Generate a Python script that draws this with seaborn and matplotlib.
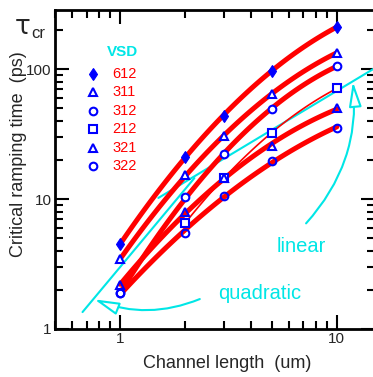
import numpy as np
import matplotlib
matplotlib.use("Agg")
import matplotlib.pyplot as plt
import seaborn as sns
from matplotlib.ticker import LogLocator, NullFormatter, FixedLocator, FixedFormatter

sns.set_style("ticks")
plt.rcParams["font.family"] = ["Liberation Sans", "DejaVu Sans"]

# Channel lengths (um)
length = [1, 2, 3, 5, 10]
length_212 = [2, 3, 5, 10]

# Critical ramping time (ps) for each VSD configuration
tau_612 = [4.5, 21.2, 43.7, 97, 211]
tau_311 = [3.45, 15.2, 30.7, 64, 134]
tau_312 = [1.88, 10.4, 22.1, 49, 106]
tau_212 = [6.57, 14.4, 32.4, 71]
tau_321 = [2.18, 7.98, 14.4, 25.6, 49.9]
tau_322 = [1.88, 5.45, 10.6, 19.6, 35.4]

vsd_labels = ["612", "311", "312", "212", "321", "322"]

# Reference slopes: linear (tau ~ L) and quadratic (tau ~ L^2)
linear_x = [1.5, 15.0]
linear_y = [10.2, 102.0]
quad_x = [0.67, 2.2]
quad_y = [1.35, 14.5]

x_ticks = [1, 10]
x_ticklabels = ["1", "10"]
y_ticks = [1, 10, 100]
y_ticklabels = ["1", "10", "100"]

RED = "#ff0000"
BLUE = "#0000ff"
CYAN = "#00e6e6"

# label, x, y, marker, size, face, edge width, curve width
series = [
    ("612", length, tau_612, "d", 6.0, BLUE, 0.8, 3.6),
    ("311", length, tau_311, "^", 6.0, "white", 1.5, 3.6),
    ("312", length, tau_312, "o", 5.5, "white", 1.5, 3.6),
    ("212", length_212, tau_212, "s", 5.2, "white", 1.5, 1.2),
    ("321", length, tau_321, "^", 6.0, "none", 1.5, 3.6),
    ("322", length, tau_322, "o", 5.5, "none", 1.5, 3.6),
]

W, H = 373, 377
fig = plt.figure(figsize=(W / 100, H / 100), dpi=100)
ax = fig.add_axes([55 / W, 48 / H, 320 / W, 319 / H])
ax.set(xscale="log", yscale="log")
ax.set_xlim(0.5, 15)
ax.set_ylim(1, 285)

# reference slope lines
sns.lineplot(x=linear_x, y=linear_y, ax=ax, color=CYAN, lw=1.5, zorder=1.5)
sns.lineplot(x=quad_x, y=quad_y, ax=ax, color=CYAN, lw=1.5, zorder=1.5)

# smooth log-log quadratic fit through each series, then the measured points
for label, xs, ys, mk, ms, face, mew, lw in series:
    lx, ly = np.log10(xs), np.log10(ys)
    coef = np.polyfit(lx, ly, 2)
    xx = np.linspace(lx.min(), lx.max(), 120)
    yy = np.polyval(coef, xx)
    sns.lineplot(x=10 ** xx, y=10 ** yy, ax=ax, color=RED, lw=lw,
                 sort=False, estimator=None, zorder=2)
    ax.plot(xs, ys, linestyle="none", marker=mk, ms=ms, mfc=face,
            mec=BLUE, mew=mew, zorder=3)

# legend block
leg_top = 1 - (52.3 - 10) / 319
ax.text((107 - 55) / 320, leg_top, "VSD", transform=ax.transAxes, color=CYAN,
        fontsize=11, fontweight="bold", ha="left", va="center")
for i, (label, xs, ys, mk, ms, face, mew, lw) in enumerate(series):
    yy = 1 - (73.7 + 18.45 * i - 10) / 319
    ax.plot([(93.3 - 55) / 320], [yy], transform=ax.transAxes, linestyle="none",
            marker=mk, ms=ms, mfc=BLUE if face == BLUE else "white", mec=BLUE,
            mew=mew, clip_on=False)
    ax.text((112.5 - 55) / 320, yy, label, transform=ax.transAxes, color=RED,
            fontsize=10.5, ha="left", va="center")

# slope annotations
ax.text(6.88, 3.93, "linear", color=CYAN, fontsize=14.5, ha="center", va="baseline")
ax.text(4.40, 1.70, "quadratic", color=CYAN, fontsize=14.5, ha="center", va="baseline")
head = "-|>,head_length=1.5,head_width=0.38"
ax.annotate("", xy=(11.86, 79.9), xytext=(7.21, 6.50),
            arrowprops=dict(arrowstyle=head, fc="white", ec=CYAN, lw=1.5,
                            mutation_scale=10, shrinkA=0, shrinkB=0,
                            connectionstyle="arc3,rad=0.22"))
ax.annotate("", xy=(0.76, 1.69), xytext=(2.33, 1.70),
            arrowprops=dict(arrowstyle=head, fc="white", ec=CYAN, lw=1.5,
                            mutation_scale=10, shrinkA=0, shrinkB=0,
                            connectionstyle="arc3,rad=-0.2"))

# axes styling
ax.xaxis.set_major_locator(FixedLocator(x_ticks))
ax.xaxis.set_major_formatter(FixedFormatter(x_ticklabels))
ax.yaxis.set_major_locator(FixedLocator(y_ticks))
ax.yaxis.set_major_formatter(FixedFormatter(y_ticklabels))
for axis in (ax.xaxis, ax.yaxis):
    axis.set_minor_locator(LogLocator(base=10, subs=np.arange(2, 10)))
    axis.set_minor_formatter(NullFormatter())
ax.tick_params(which="both", direction="in", top=True, right=True,
               width=1.5, color="black", labelsize=11)
ax.tick_params(which="major", length=10, pad=2.5)
ax.tick_params(which="minor", length=6)
for sp in ax.spines.values():
    sp.set_linewidth(2.0)
    sp.set_color("black")

ax.set_xlabel("Channel length  (um)", fontsize=13)
ax.xaxis.set_label_coords((227.5 - 55) / 320, (329 - 355) / 319)
ax.set_ylabel("Critical ramping time  (ps)", fontsize=13)
ax.yaxis.set_label_coords((27 - 55) / 320, (329 - 154) / 319)

fig.text(15 / W, 1 - 33.5 / H, "τ", fontsize=19, family="DejaVu Sans",
         ha="left", va="baseline")
fig.text(31.7 / W, 1 - 38 / H, "cr", fontsize=12, ha="left", va="baseline")

fig.savefig("out.png", dpi=100)
